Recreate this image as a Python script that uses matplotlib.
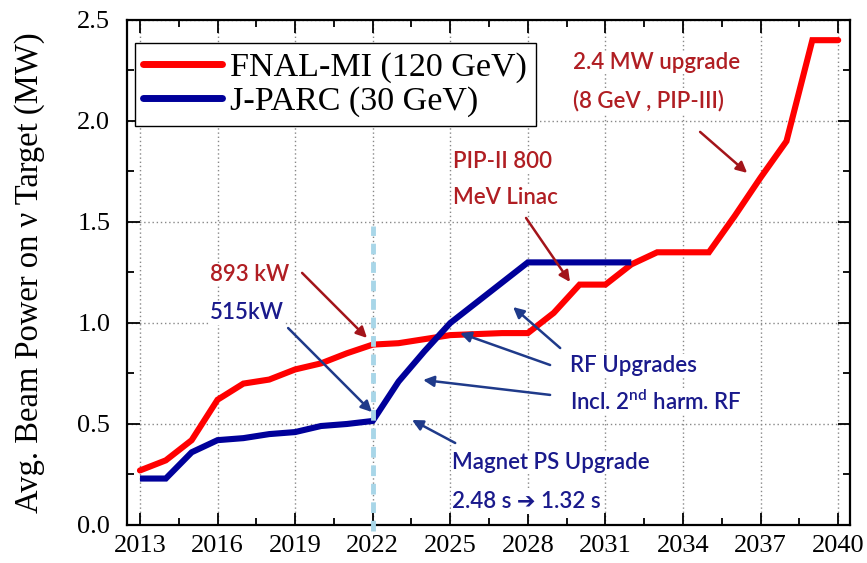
import matplotlib
matplotlib.use("Agg")
import matplotlib.pyplot as plt
from matplotlib.ticker import MultipleLocator

# ---------------- data ----------------
fnal_years = [2013, 2014, 2015, 2016, 2017, 2018, 2019, 2020, 2021, 2022, 2023, 2024,
              2025, 2026, 2027, 2028, 2029, 2030, 2031, 2032, 2033, 2034, 2035, 2036,
              2037, 2038, 2039, 2040]
fnal_power = [0.27, 0.32, 0.42, 0.62, 0.70, 0.72, 0.77, 0.80, 0.85, 0.893, 0.90, 0.92,
              0.94, 0.945, 0.95, 0.95, 1.05, 1.19, 1.19, 1.29, 1.35, 1.35, 1.35, 1.53,
              1.72, 1.90, 2.40, 2.40]

jparc_years = [2013, 2014, 2015, 2016, 2017, 2018, 2019, 2020, 2021, 2022, 2023, 2024,
               2025, 2026, 2027, 2028, 2029, 2030, 2031, 2032]
jparc_power = [0.23, 0.23, 0.36, 0.42, 0.43, 0.45, 0.46, 0.49, 0.50, 0.515, 0.71, 0.86,
               1.00, 1.10, 1.20, 1.30, 1.30, 1.30, 1.30, 1.30]

marker_year = 2022
marker_span = [-0.03, 1.48]

x_ticks = [2013, 2016, 2019, 2022, 2025, 2028, 2031, 2034, 2037, 2040]
y_ticks = [0.0, 0.5, 1.0, 1.5, 2.0, 2.5]

series_labels = ["FNAL-MI (120 GeV)", "J-PARC (30 GeV)"]
y_label = "Avg. Beam Power on ν Target (MW)"

# ---------------- style ----------------
plt.rcParams['font.family'] = ['Liberation Serif', 'DejaVu Serif']
ANN_FONT = ['Lato', 'DejaVu Sans']
plt.rcParams['mathtext.fontset'] = 'custom'
plt.rcParams['mathtext.rm'] = 'Lato:semibold'

RED = '#ff0000'
BLUE = '#00009a'
TXT_RED = '#b01e23'
TXT_BLUE = '#1a1a8c'
ARR_RED = '#a3141a'
ARR_BLUE = '#1f3a8a'

fig = plt.figure(figsize=(8.67, 5.63), dpi=100)
ax = fig.add_axes([0.1465, 0.0675, 0.834, 0.897])

ax.plot(fnal_years, fnal_power, color=RED, lw=4.4, solid_capstyle='round',
        solid_joinstyle='miter', label=series_labels[0], zorder=4)
ax.plot(jparc_years, jparc_power, color=BLUE, lw=4.4, solid_capstyle='butt',
        solid_joinstyle='miter', label=series_labels[1], zorder=4)

ax.plot([marker_year, marker_year], marker_span, color='#a8d6e8', lw=3.5,
        dashes=(2.2, 1.6), clip_on=False, zorder=5)

ax.set_xlim(2012.5, 2040.46)
ax.set_ylim(0, 2.5)
ax.set_xticks(x_ticks)
ax.set_yticks(y_ticks)
ax.set_yticklabels([f"{v:.1f}" for v in y_ticks])
ax.xaxis.set_minor_locator(MultipleLocator(1.5))
ax.yaxis.set_minor_locator(MultipleLocator(0.25))
ax.tick_params(which='both', direction='in', top=True, right=True, labelsize=19)
ax.tick_params(which='major', length=9, width=1.3)
ax.tick_params(axis='y', which='major', pad=12)
ax.tick_params(axis='x', which='major', pad=7)
ax.tick_params(which='minor', length=5, width=1.3)
for s in ax.spines.values():
    s.set_linewidth(1.6)

ax.set_axisbelow(True)
ax.grid(True, which='major', color='#888888', ls=(0, (1, 2)), lw=1.0)
ax.set_ylabel(y_label, fontsize=23.5, labelpad=23)

leg = ax.legend(loc='upper left', bbox_to_anchor=(0.011, 0.954), borderaxespad=0,
                fontsize=24.5, handlelength=2.3, handletextpad=0.25, frameon=True,
                fancybox=False, edgecolor='black', framealpha=1, borderpad=0.25,
                labelspacing=0.1)
leg.get_frame().set_linewidth(1.0)
for h in leg.get_lines():
    h.set_linewidth(5)
    h.set_solid_capstyle('round')

# ---------------- annotations ----------------
box = dict(facecolor='white', edgecolor='none', pad=1.0)

def txt(x, y, s, c):
    ax.text(x, y, s, color=c, fontsize=16, family=ANN_FONT, fontweight='semibold',
            ha='left', va='center', bbox=box, zorder=3)

def arrow(x0, y0, x1, y1, c):
    ax.annotate('', xy=(x1, y1), xytext=(x0, y0),
                arrowprops=dict(arrowstyle='-|>', color=c, lw=1.8, mutation_scale=16,
                                shrinkA=0, shrinkB=0), zorder=6)

txt(2029.75, 2.29, "2.4 MW upgrade", TXT_RED)
txt(2029.75, 2.10, "(8 GeV , PIP-III)", TXT_RED)
arrow(2034.66, 1.946, 2036.48, 1.743, ARR_RED)

txt(2025.11, 1.80, "PIP-II 800", TXT_RED)
txt(2025.11, 1.62, "MeV Linac", TXT_RED)
arrow(2027.93, 1.520, 2029.63, 1.203, ARR_RED)

txt(2015.71, 1.24, "893 kW", TXT_RED)
arrow(2019.27, 1.248, 2021.78, 0.926, ARR_RED)
txt(2015.71, 1.05, "515kW", TXT_BLUE)
arrow(2018.73, 0.975, 2021.97, 0.559, ARR_BLUE)

txt(2029.63, 0.79, "RF Upgrades", TXT_BLUE)
txt(2029.63, 0.61, r"Incl. 2$^{\mathrm{nd}}$ harm. RF", TXT_BLUE)
arrow(2029.25, 0.876, 2027.43, 1.079, ARR_BLUE)
arrow(2028.86, 0.792, 2025.38, 0.950, ARR_BLUE)
arrow(2028.86, 0.644, 2023.95, 0.718, ARR_BLUE)

txt(2025.07, 0.31, "Magnet PS Upgrade", TXT_BLUE)
txt(2025.07, 0.114, "2.48 s \u2794 1.32 s", TXT_BLUE)
arrow(2025.19, 0.406, 2023.52, 0.520, ARR_BLUE)

fig.savefig("out.png", dpi=100)
